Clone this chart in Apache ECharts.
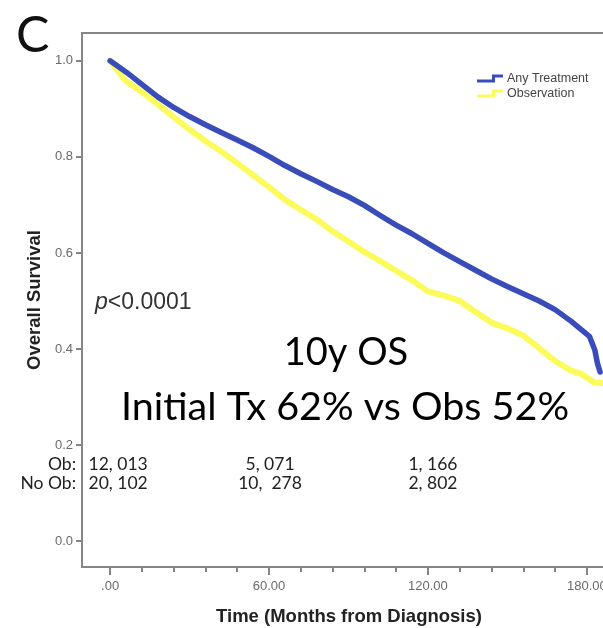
<!DOCTYPE html>
<html>
<head>
<meta charset="utf-8">
<script src="https://cdn.jsdelivr.net/npm/echarts@6/dist/echarts.min.js"></script>
<style>
  html, body { margin: 0; padding: 0; background: #ffffff; }
  #chart { width: 603px; height: 628px; }
</style>
</head>
<body>
<div id="chart"></div>
<script>
// Kaplan-Meier overall survival, initial treatment vs observation
const panelLetter = 'C';
const seriesNames = ['Any Treatment', 'Observation'];

// Any Treatment curve (months, survival probability)
const txMonths = [0, 6, 12, 18, 24, 30, 36, 42, 48, 54, 60, 66, 72, 78, 84, 90, 96, 102, 108, 114,
  120, 126, 132, 138, 144, 150, 156, 162, 168, 174, 178, 181, 182, 183, 184, 185];
const txSurvival = [1.000, 0.977, 0.951, 0.925, 0.903, 0.884, 0.867, 0.851, 0.835, 0.819, 0.801,
  0.782, 0.765, 0.749, 0.732, 0.717, 0.699, 0.678, 0.658, 0.640, 0.620, 0.600, 0.582, 0.564,
  0.546, 0.530, 0.515, 0.500, 0.482, 0.458, 0.440, 0.426, 0.412, 0.398, 0.370, 0.352];

// Observation curve (months, survival probability)
const obsMonths = [0, 6, 12, 18, 24, 30, 36, 42, 48, 54, 60, 66, 72, 78, 84, 90, 96, 102, 108, 114,
  120, 126, 132, 138, 144, 150, 156, 162, 168, 174, 178, 180, 183, 186];
const obsSurvival = [1.000, 0.958, 0.935, 0.910, 0.883, 0.857, 0.833, 0.811, 0.787, 0.762, 0.737,
  0.711, 0.690, 0.670, 0.645, 0.624, 0.602, 0.583, 0.563, 0.543, 0.520, 0.511, 0.500, 0.477,
  0.455, 0.443, 0.428, 0.402, 0.375, 0.355, 0.348, 0.340, 0.330, 0.329];

// Axis ticks
const yTicks = [0, 0.2, 0.4, 0.6, 0.8, 1.0];
const xTicks = [0, 60, 120, 180];
const xMinorTicks = [12, 24, 36, 48, 72, 84, 96, 108, 132, 144, 156, 168];

// Numbers at risk
const riskRowLabels = ['Ob:', 'No Ob:'];
const riskMonths = [0, 60, 120];
const obAtRisk = ['12, 013', '5, 071', '1, 166'];
const noObAtRisk = ['20, 102', '10,  278', '2, 802'];

// Annotations
const pValueNumber = '<0.0001';
const osTitle = '10y OS';
const osSummary = 'Initial Tx 62% vs Obs 52%';

const axisTitleY = 'Overall Survival';
const axisTitleX = 'Time (Months from Diagnosis)';

const BLUE = '#3a4bba';
const YELLOW = '#fbfb5c';
const AXIS_GRAY = '#858585';
const LABEL_GRAY = '#6a6a6a';
const CAL_FONT = 'Lato, "Noto Sans", sans-serif';
const ARIAL = '"Liberation Sans", Arial, sans-serif';

const chart = echarts.init(document.getElementById('chart'), null, { renderer: 'canvas' });

const stepIcon = 'path://M0,5 L15,5 L15,0 L26,0 L26,3 L18,3 L18,8 L0,8 Z';

function zip(xs, ys) { return xs.map((x, i) => [x, ys[i]]); }

const option = {
  animation: false,
  backgroundColor: '#ffffff',
  grid: {
    left: 82, top: 33, right: -13, bottom: 61,
    outerBoundsMode: 'none',
    show: true, borderColor: AXIS_GRAY, borderWidth: 2, backgroundColor: 'transparent'
  },
  legend: {
    orient: 'vertical',
    left: 477, top: 72,
    padding: 0,
    itemGap: 2,
    itemWidth: 26, itemHeight: 8,
    icon: stepIcon,
    itemStyle: { borderWidth: 0 },
    data: seriesNames,
    textStyle: { fontFamily: ARIAL, fontSize: 12.5, color: '#444', lineHeight: 13, padding: [0, 0, 0, -1] }
  },
  xAxis: [{
    type: 'value', min: -10.6, max: 191,
    name: axisTitleX, nameLocation: 'middle', nameGap: 40,
    nameTextStyle: { fontFamily: ARIAL, fontWeight: 'bold', fontSize: 18.5, color: '#222' },
    axisLine: { show: true, onZero: false, lineStyle: { color: AXIS_GRAY, width: 2 } },
    axisTick: { show: true, customValues: xTicks, length: 8, lineStyle: { color: AXIS_GRAY, width: 2 } },
    axisLabel: {
      customValues: xTicks, margin: 13, fontFamily: ARIAL, fontSize: 13, color: LABEL_GRAY,
      formatter: v => (v === 0 ? '.00' : v.toFixed(2))
    },
    splitLine: { show: false }
  }, {
    type: 'value', min: -10.6, max: 191, position: 'bottom',
    axisLine: { show: false, onZero: false },
    axisTick: { show: true, customValues: xMinorTicks, length: 5, lineStyle: { color: AXIS_GRAY, width: 2 } },
    axisLabel: { show: false },
    splitLine: { show: false }
  }],
  yAxis: {
    type: 'value', min: -0.054, max: 1.058,
    name: axisTitleY, nameLocation: 'middle', nameGap: 38,
    nameTextStyle: { fontFamily: ARIAL, fontWeight: 'bold', fontSize: 18.5, color: '#222' },
    axisLine: { show: true, onZero: false, lineStyle: { color: AXIS_GRAY, width: 2 } },
    axisTick: { show: true, customValues: yTicks, length: 6, lineStyle: { color: AXIS_GRAY, width: 2 } },
    axisLabel: {
      customValues: yTicks, margin: 9, fontFamily: ARIAL, fontSize: 13, color: LABEL_GRAY,
      formatter: v => v.toFixed(1)
    },
    splitLine: { show: false }
  },
  series: [{
    name: seriesNames[1], type: 'line', data: zip(obsMonths, obsSurvival),
    showSymbol: false, symbol: 'none', z: 2,
    color: YELLOW,
    lineStyle: { color: YELLOW, width: 6, cap: 'round', join: 'round' }
  }, {
    name: seriesNames[0], type: 'line', data: zip(txMonths, txSurvival),
    showSymbol: false, symbol: 'none', z: 3,
    color: BLUE,
    lineStyle: { color: BLUE, width: 5.5, cap: 'round', join: 'round' }
  }]
};

chart.setOption(option);

// Text overlays: panel letter, p-value, survival summary and numbers-at-risk table
const riskColumnShift = [8, 1, 5];
const riskRowY = [464, 483];
const riskTexts = [];
riskRowLabels.forEach((lab, r) => {
  riskTexts.push({
    type: 'text',
    style: { x: 76, y: riskRowY[r], text: lab, align: 'right', verticalAlign: 'middle',
      font: '17.5px ' + CAL_FONT, fill: '#222' }
  });
  const row = r === 0 ? obAtRisk : noObAtRisk;
  row.forEach((val, c) => {
    const px = chart.convertToPixel({ xAxisIndex: 0 }, riskMonths[c]) + riskColumnShift[c];
    riskTexts.push({
      type: 'text',
      style: { x: px, y: riskRowY[r], text: val, align: 'center', verticalAlign: 'middle',
        font: '17.5px ' + CAL_FONT, fill: '#222' }
    });
  });
});

chart.setOption({
  graphic: [
    { type: 'text', style: { x: 16, y: 36, text: panelLetter, align: 'left', verticalAlign: 'middle',
        font: '50px ' + CAL_FONT, fill: '#111' } },
    { type: 'text', style: { x: 95, y: 303, text: '{i|p}{n|' + pValueNumber + '}', align: 'left', verticalAlign: 'middle',
        rich: {
          i: { fontFamily: ARIAL, fontStyle: 'italic', fontSize: 23, fill: '#333' },
          n: { fontFamily: ARIAL, fontSize: 23, fill: '#333' }
        } } },
    { type: 'text', style: { x: 346, y: 353, text: osTitle, align: 'center', verticalAlign: 'middle',
        font: '38px ' + CAL_FONT, fill: '#000' } },
    { type: 'text', style: { x: 345, y: 407, text: osSummary, align: 'center', verticalAlign: 'middle',
        font: '39.5px ' + CAL_FONT, fill: '#000' } }
  ].concat(riskTexts)
});
</script>
</body>
</html>
